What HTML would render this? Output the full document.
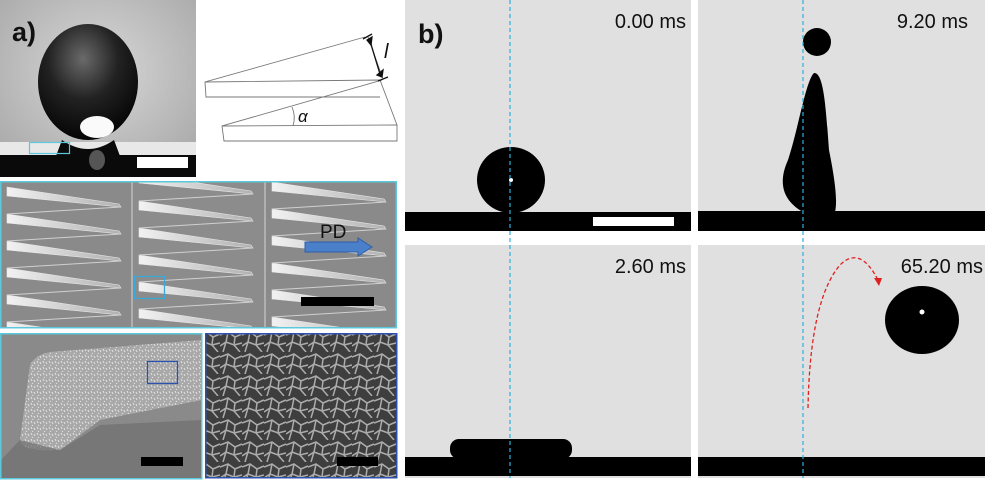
<!DOCTYPE html>
<html><head><meta charset="utf-8"><style>
html,body{margin:0;padding:0;background:#fff;}
svg{display:block;}
text{font-family:"Liberation Sans",Arial,sans-serif;}
</style></head><body>
<svg width="985" height="482" viewBox="0 0 985 482" xmlns="http://www.w3.org/2000/svg">
<defs>
<radialGradient id="bg1" cx="0.5" cy="0.4" r="0.7">
<stop offset="0" stop-color="#d8d8d8"/><stop offset="1" stop-color="#a8a8a8"/></radialGradient>
<radialGradient id="drop" cx="0.45" cy="0.3" r="0.7">
<stop offset="0" stop-color="#6a6a6a"/><stop offset="0.5" stop-color="#222"/><stop offset="1" stop-color="#050505"/></radialGradient>
<linearGradient id="wedge" x1="0" x2="1"><stop offset="0" stop-color="#f2f2f2"/><stop offset="1" stop-color="#b0b0b0"/></linearGradient>
<g id="wedges">
<g fill="url(#wedge)" stroke="#e8e8e8" stroke-width="0.6">
<polygon points="6,0 118,17 120,20 6,9"/>
<polygon points="6,27 118,44 120,47 6,36"/>
<polygon points="6,54 118,71 120,74 6,63"/>
<polygon points="6,81 118,98 120,101 6,90"/>
<polygon points="6,108 118,125 120,128 6,117"/>
<polygon points="6,135 118,152 120,155 6,144"/>
</g>
<g stroke="#d0d0d0" stroke-width="1" fill="none">
<polyline points="120,20 6,27"/><polyline points="120,47 6,54"/><polyline points="120,74 6,81"/><polyline points="120,101 6,108"/><polyline points="120,128 6,135"/>
</g>
</g>
<pattern id="net" width="22" height="22" patternUnits="userSpaceOnUse">
<rect width="22" height="22" fill="#3e3e3e"/>
<path d="M0 5 L8 2 L15 7 L22 4 M8 2 L6 12 L0 16 M6 12 L14 15 L15 7 M14 15 L20 22 M14 15 L22 13 M3 22 L6 12" stroke="#c8c8c8" stroke-width="1.5" fill="none" opacity="0.8"/>
</pattern>
<pattern id="fuzz" width="6" height="6" patternUnits="userSpaceOnUse">
<rect width="6" height="6" fill="#a8a8a8"/>
<path d="M1 1 L2 3 M4 2 L5 4 M2 5 L3 6" stroke="#e0e0e0" stroke-width="1"/>
</pattern>
</defs>

<!-- a) drop photo -->
<rect x="0" y="0" width="196" height="177" fill="url(#bg1)"/>
<rect x="0" y="142" width="196" height="13" fill="#e8e8e8"/>
<rect x="0" y="155" width="196" height="22" fill="#0a0a0a"/>
<ellipse cx="88" cy="82" rx="50" ry="58" fill="url(#drop)"/>
<path d="M62 140 Q88 158 114 140 L120 156 L56 156 Z" fill="#0a0a0a"/>
<ellipse cx="97" cy="127" rx="17" ry="11" fill="#fafafa"/>
<ellipse cx="97" cy="160" rx="8" ry="10" fill="#555"/>
<rect x="137" y="157" width="51" height="11" fill="#fff"/>
<rect x="29.5" y="142.5" width="40" height="11" fill="none" stroke="#5bc8dc" stroke-width="1.2"/>
<text x="12" y="41" font-size="27" font-weight="bold" fill="#111">a)</text>

<!-- diagram -->
<g stroke="#777" stroke-width="0.9" fill="none">
<polyline points="365,37 205,82 206,97 380,97"/>
<polyline points="205,82 380,80 397,125"/>
<polyline points="382,80 222,126 224,141 397,141 397,125 222,126"/>
<path d="M292 107 Q296 116 293 126"/>
</g>
<line x1="368" y1="37" x2="383" y2="79" stroke="#777" stroke-width="0.8"/>
<g stroke="#111" stroke-width="1.3" fill="#111">
<line x1="370" y1="41" x2="380" y2="74"/>
<polygon points="367,40 372,37 371,45" /><polygon points="382,77 377,75 383,70"/>
<line x1="363" y1="39" x2="372" y2="34"/><line x1="378" y1="81" x2="388" y2="77"/>
</g>
<text x="384" y="58" font-size="20" font-style="italic" font-family="Liberation Serif" fill="#111">l</text>
<text x="298" y="122" font-size="17" font-style="italic" font-family="Liberation Serif" fill="#111">α</text>

<!-- SEM strip -->
<rect x="0" y="181" width="397" height="147" fill="#8e8e8e"/>
<svg x="1" y="182" width="130" height="145" viewBox="0 0 130 145"><rect width="130" height="145" fill="#8a8a8a"/><use href="#wedges" y="5"/></svg>
<svg x="133" y="182" width="131" height="145" viewBox="0 0 131 145"><rect width="131" height="145" fill="#8c8c8c"/><use href="#wedges" y="-8"/><use href="#wedges" y="154"/></svg>
<svg x="266" y="182" width="130" height="145" viewBox="0 0 130 145"><rect width="130" height="145" fill="#8a8a8a"/><use href="#wedges" y="0"/></svg>
<line x1="132" y1="181" x2="132" y2="328" stroke="#bbb" stroke-width="1.5"/>
<line x1="265" y1="181" x2="265" y2="328" stroke="#bbb" stroke-width="1.5"/>
<rect x="0.75" y="181.75" width="395.5" height="146" fill="none" stroke="#5bc8dc" stroke-width="1.5"/>
<text x="320" y="238" font-size="19" fill="#111">PD</text>
<polygon points="305,242 358,242 358,238 372,247 358,256 358,252 305,252" fill="#4a7fc9" stroke="#2f5fa8" stroke-width="1"/>
<rect x="301" y="297" width="73" height="9" fill="#000"/>
<rect x="134.5" y="276.5" width="30" height="22" fill="none" stroke="#3aa8d8" stroke-width="1.3"/>

<!-- bottom SEM left -->
<rect x="1" y="333" width="201" height="145" fill="#8a8a8a"/>
<path d="M30 365 Q35 355 50 352 L202 340 L202 400 Q150 410 100 420 L60 450 Q20 452 20 440 Z" fill="url(#fuzz)"/>
<path d="M20 440 L60 450 L100 425 L202 420 L202 478 L1 478 L1 460 Z" fill="#6f6f6f" opacity="0.7"/>
<rect x="147.5" y="361.5" width="30" height="22" fill="none" stroke="#2b50b0" stroke-width="1.3"/>
<rect x="141" y="457" width="42" height="9" fill="#000"/>
<rect x="0.75" y="333.75" width="201" height="145" fill="none" stroke="#5bc8dc" stroke-width="1.5"/>
<!-- bottom SEM right -->
<rect x="205" y="333" width="192" height="145" fill="url(#net)"/>
<rect x="337" y="457" width="41" height="9" fill="#000"/>
<rect x="205.75" y="333.75" width="191" height="144" fill="none" stroke="#2b50b0" stroke-width="1.5"/>

<!-- b) panels -->
<rect x="405" y="0" width="286" height="231" fill="#e0e0e0"/>
<rect x="698" y="0" width="287" height="231" fill="#e0e0e0"/>
<rect x="405" y="245" width="286" height="233" fill="#e0e0e0"/>
<rect x="698" y="245" width="287" height="233" fill="#e0e0e0"/>
<rect x="405" y="212" width="286" height="19" fill="#000"/>
<rect x="698" y="211" width="287" height="20" fill="#000"/>
<rect x="405" y="457" width="286" height="19" fill="#000"/>
<rect x="698" y="457" width="287" height="19" fill="#000"/>
<ellipse cx="511" cy="180" rx="34" ry="33" fill="#000"/>
<rect x="593" y="217" width="81" height="9" fill="#fff"/>
<circle cx="817" cy="42" r="14" fill="#000"/>
<path d="M803 212 C782 200 778 182 788 160 C798 130 806 80 814 73 C824 72 826 110 829 150 C834 175 838 200 835 212 Z" fill="#000"/>
<rect x="450" y="439" width="122" height="20" rx="9" fill="#000"/>
<ellipse cx="922" cy="320" rx="37" ry="34" fill="#000"/>
<circle cx="922" cy="312" r="2.5" fill="#fff"/><circle cx="511" cy="180" r="2" fill="#fff"/>
<line x1="510" y1="0" x2="510" y2="478" stroke="#2ab0e0" stroke-width="1.2" stroke-dasharray="4,3"/>
<line x1="803" y1="0" x2="803" y2="478" stroke="#2ab0e0" stroke-width="1.2" stroke-dasharray="4,3"/>
<path d="M808 408 Q810 300 840 265 Q860 245 878 280" fill="none" stroke="#e02020" stroke-width="1.3" stroke-dasharray="4,2.5"/>
<polygon points="874,278 882,278 879,286" fill="#e02020"/>
<text x="418" y="43" font-size="27" font-weight="bold" fill="#111">b)</text>
<text x="686" y="28" font-size="20" text-anchor="end" fill="#111">0.00 ms</text>
<text x="968" y="28" font-size="20" text-anchor="end" fill="#111">9.20 ms</text>
<text x="686" y="273" font-size="20" text-anchor="end" fill="#111">2.60 ms</text>
<text x="983" y="273" font-size="20" text-anchor="end" fill="#111">65.20 ms</text>
</svg>
</body></html>
